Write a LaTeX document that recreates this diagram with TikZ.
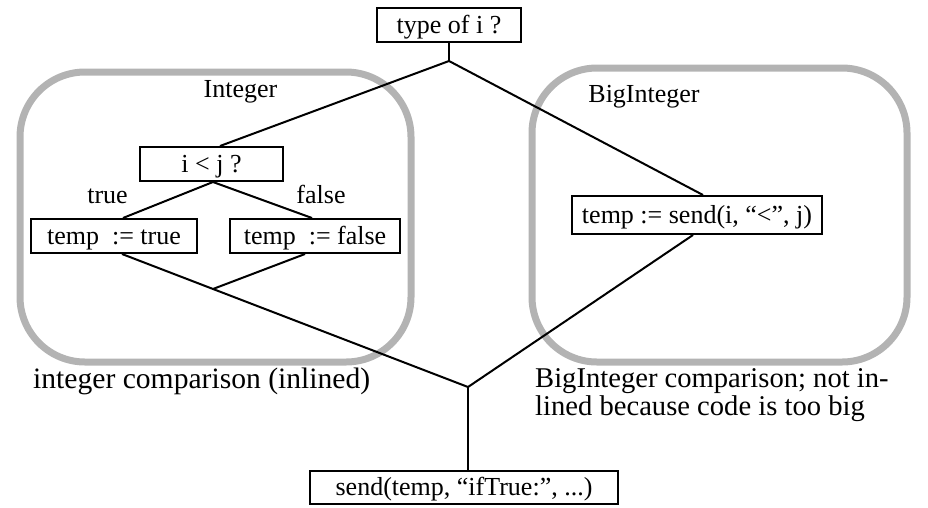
\documentclass[tikz,border=0pt]{standalone}
\usepackage{fontspec}
\setmainfont{Liberation Serif}
\usetikzlibrary{calc}
\definecolor{framegray}{RGB}{179,179,179}
\begin{document}
\begin{tikzpicture}[x=1pt,y=-1pt,
  stepbox/.style={draw, line width=2pt, font=\fontsize{26}{30}\selectfont,
    text height=20pt, text depth=4pt, inner sep=0pt, minimum height=34pt},
  wire/.style={line width=2pt, line join=miter},
  frame/.style={draw=framegray, line width=7pt, rounded corners=65pt},
  lbl/.style={font=\fontsize{26}{30}\selectfont, inner sep=0pt},
  caption/.style={inner sep=0pt, align=left}]
\useasboundingbox (0,0) rectangle (928,507);

% the two regions: inlined integer test and the BigInteger send
\draw[frame] (20,72) rectangle (411,362);
\draw[frame] (532,68) rectangle (907,362);

% statements
\node[stepbox, minimum width=144pt] (q) at (449,25) {type of i ?};
\node[stepbox, minimum width=143pt] (c) at (211.5,164) {i < j ?};
\node[stepbox, minimum width=166pt] (t) at (114,236) {temp\ \ := true};
\node[stepbox, minimum width=170pt] (f) at (315,236) {temp\ \ := false};
\node[stepbox, minimum width=250pt, minimum height=38pt] (b) at (697,215) {temp := send(i, “<”, j)};
\node[stepbox, minimum width=308pt, minimum height=33pt] (s) at (464,487.5) {send(temp, “ifTrue:”, ...)};

% labels
\node[lbl, anchor=base] (lint) at (240.5,97) {Integer};
\node[lbl, anchor=base] (lbig) at (644,102) {BigInteger};
\node[lbl, anchor=base] (ltrue) at (107.5,203) {true};
\node[lbl, anchor=base] (lfalse) at (321,203) {false};
\node[caption, font=\fontsize{29.6}{28}\selectfont, anchor=base west] (capl) at (33,388)
  {integer comparison (inlined)};
% base anchor of a two-line node sits on the last line
\node[caption, font=\fontsize{28.6}{27.5}\selectfont, anchor=base west] (capr) at (535,415)
  {BigInteger comparison; not in-\\lined because code is too big};

% control flow
\coordinate (j1) at (449,61);
\coordinate (j2) at (468,387);
\draw[wire] (q.south) -- (j1);
\draw[wire] ($(c.north)+(8.5,0)$) -- (j1) -- ($(b.north)+(6,0)$);
\draw[wire] ($(t.north)+(9,0)$) -- ($(c.south)+(1.5,0)$) -- ($(f.north)+(-3,0)$);
\coordinate (tb) at ($(t.south)+(8,0)$);
\draw[wire] (tb) -- (j2) -- ($(b.south)+(-4,0)$);
\coordinate (m) at ($(tb)!0.263!(j2)$);
\draw[wire] ($(f.south)+(-10,0)$) -- (m);
\draw[wire] (j2) -- (s.north -| j2);
\end{tikzpicture}
\end{document}
